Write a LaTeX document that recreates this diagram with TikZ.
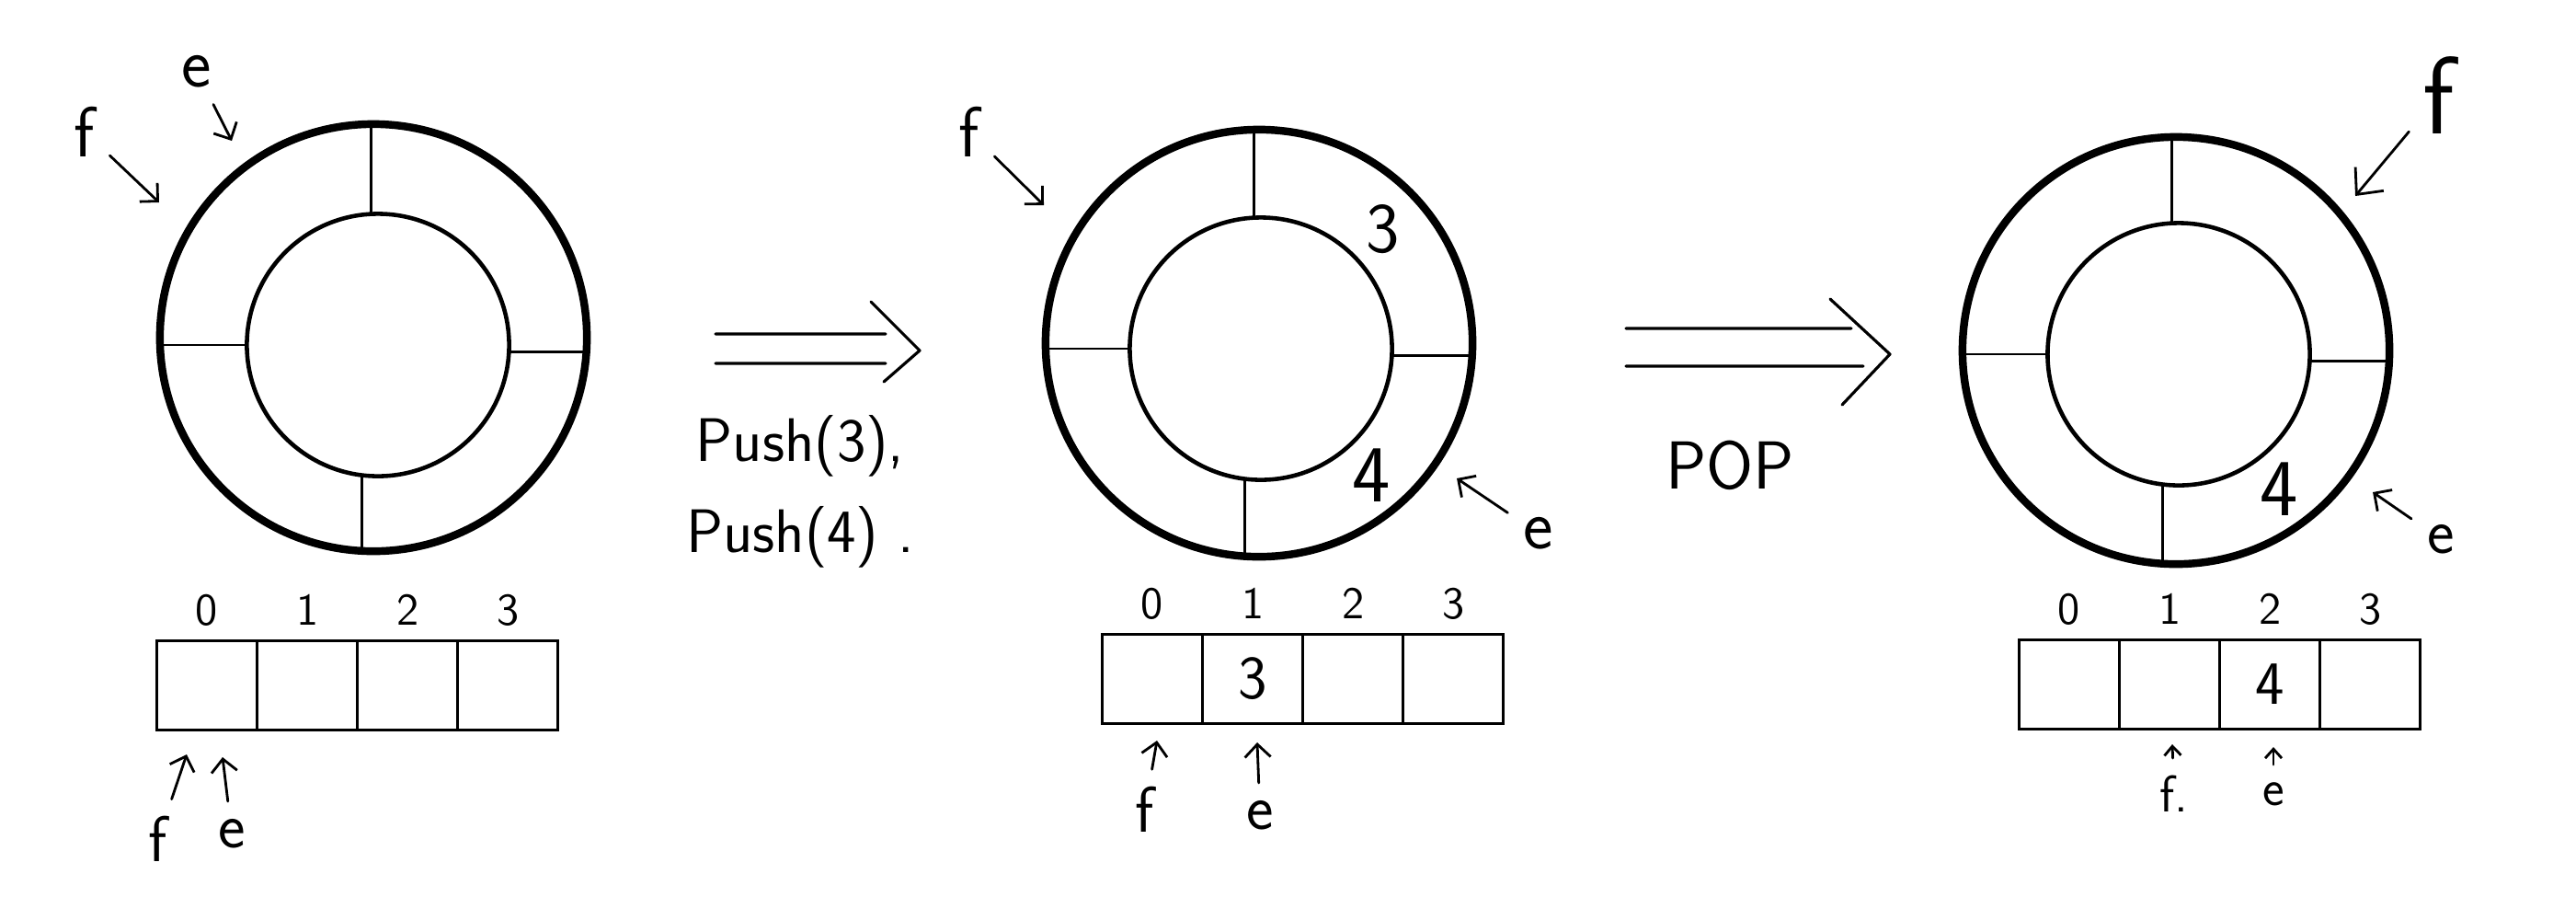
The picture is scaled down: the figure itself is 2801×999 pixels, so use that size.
\documentclass[tikz,border=0pt]{standalone}
\usetikzlibrary{arrows.meta}

\begin{document}
\begin{tikzpicture}
    [x=0.01cm, y=-0.01cm,
    node distance =1.09cm,
    ring/.style={draw, circle, inner sep=0pt, outer sep=0pt, minimum size=4.64cm, line width=2.4pt},
    hole/.style={draw, circle, inner sep=0pt, outer sep=0pt, minimum size=2.85cm, line width=1.3pt},
    divider/.style={line width=0.8pt},
    cell/.style={draw, inner sep=0pt, outer sep=0pt, minimum width=1.09cm, minimum height=0.97cm, line width=0.9pt, font=\sffamily\fontsize{19}{21}\selectfont},
    idx/.style={node distance=0.82cm, font=\sffamily\fontsize{14}{16}\selectfont},
    lbl/.style={inner sep=0.08cm, font=\sffamily\fontsize{22}{24}\selectfont},
    val/.style={font=\sffamily\fontsize{22}{24}\selectfont},
    ptr/.style={line width=0.8pt, line cap=round, shorten <=3pt, -{Straight Barb[length=0.14cm, width=0.28cm]}},
    opline/.style={line width=0.9pt, line cap=round, line join=round},
    oplbl/.style={font=\sffamily\fontsize{19}{21}\selectfont}]
        \useasboundingbox (0,0) rectangle (2801,999);
        % Queue 1
        \node[ring] (R1o) at (406,367) {};
        \node[hole] (R1i) at (411,375) {};
        \draw[divider] (R1i.93) -- (R1i.93 |- R1o.north);
        \draw[divider] (R1i.180) -- (R1i.180 -| R1o.west);
        \draw[divider] (R1i.357.6) -- (R1i.357.6 -| R1o.east);
        \draw[divider] (R1i.263.5) -- (R1i.263.5 |- R1o.south);

        \node[lbl] (f1) at (92,143) {f};
        \node[lbl] (e1) at (214,78) {e};
        \coordinate (f1at) at (173,220);
        \coordinate (e1at) at (252,153);
        \draw[ptr] (f1) -- (f1at);
        \draw[ptr] (e1) -- (e1at);

        \node[cell] (A0) at (225,745) {};
        \node[cell, right of = A0] (A1) {};
        \node[cell, right of = A1] (A2) {};
        \node[cell, right of = A2] (A3) {};
        \node[idx, above of = A0] (A0i) {0};
        \node[idx, above of = A1] (A1i) {1};
        \node[idx, above of = A2] (A2i) {2};
        \node[idx, above of = A3] (A3i) {3};

        \node[lbl, font=\sffamily\fontsize{20}{22}\selectfont] (fa) at (172,912) {f};
        \node[lbl, font=\sffamily\fontsize{20}{22}\selectfont] (ea) at (252,906) {e};
        \coordinate (faat) at (203,820);
        \coordinate (eaat) at (242,823);
        \draw[ptr] (fa) -- (faat);
        \draw[ptr] (ea) -- (eaat);

        % Push step
        \coordinate (op1a) at (778,379);
        \coordinate (op1b) at (1000,381);
        \draw[opline] ([yshift=0.16cm]op1a) -- ([xshift=-0.37cm, yshift=0.18cm]op1b);
        \draw[opline] ([yshift=-0.16cm]op1a) -- ([xshift=-0.37cm, yshift=-0.14cm]op1b);
        \draw[opline] ([xshift=-0.53cm, yshift=0.53cm]op1b) -- (op1b) -- ([xshift=-0.39cm, yshift=-0.34cm]op1b);
        \node[oplbl] (push3) at (870,485) {Push(3),};
        \node[oplbl, below of = push3, node distance=0.99cm] (push4) {Push(4) .};

        % Queue 2
        \node[ring] (R2o) at (1369,373) {};
        \node[hole] (R2i) at (1371,379) {};
        \draw[divider] (R2i.93) -- (R2i.93 |- R2o.north);
        \draw[divider] (R2i.180) -- (R2i.180 -| R2o.west);
        \draw[divider] (R2i.357.6) -- (R2i.357.6 -| R2o.east);
        \draw[divider] (R2i.263.5) -- (R2i.263.5 |- R2o.south);
        \node[val] (v23) at (1504,249) {3};
        \node[val, font=\sffamily\fontsize{25}{27}\selectfont] (v24) at (1491,517) {4};

        \node[lbl] (f2) at (1054,143) {f};
        \node[lbl] (e2) at (1673,580) {e};
        \coordinate (f2at) at (1135,223);
        \coordinate (e2at) at (1584,520);
        \draw[ptr] (f2) -- (f2at);
        \draw[ptr] (e2) -- (e2at);

        \node[cell] (B0) at (1253,738) {};
        \node[cell, right of = B0] (B1) {3};
        \node[cell, right of = B1] (B2) {};
        \node[cell, right of = B2] (B3) {};
        \node[idx, above of = B0] (B0i) {0};
        \node[idx, above of = B1] (B1i) {1};
        \node[idx, above of = B2] (B2i) {2};
        \node[idx, above of = B3] (B3i) {3};

        \node[lbl, font=\sffamily\fontsize{20}{22}\selectfont] (fb) at (1245,880) {f};
        \node[lbl, font=\sffamily\fontsize{20}{22}\selectfont] (eb) at (1370,886) {e};
        \coordinate (fbat) at (1258,805);
        \coordinate (ebat) at (1367,807);
        \draw[ptr] (fb) -- (fbat);
        \draw[ptr] (eb) -- (ebat);

        % Pop step
        \coordinate (op2a) at (1768,378);
        \coordinate (op2b) at (2055,385);
        \draw[opline] ([yshift=0.21cm]op2a) -- ([xshift=-0.42cm, yshift=0.28cm]op2b);
        \draw[opline] ([yshift=-0.20cm]op2a) -- ([xshift=-0.29cm, yshift=-0.13cm]op2b);
        \draw[opline] ([xshift=-0.65cm, yshift=0.60cm]op2b) -- (op2b) -- ([xshift=-0.52cm, yshift=-0.55cm]op2b);
        \node[oplbl, font=\sffamily\fontsize{21}{23}\selectfont] (pop) at (1881,506) {POP};

        % Queue 3
        \node[ring] (R3o) at (2366,381) {};
        \node[hole] (R3i) at (2369,385) {};
        \draw[divider] (R3i.93) -- (R3i.93 |- R3o.north);
        \draw[divider] (R3i.180) -- (R3i.180 -| R3o.west);
        \draw[divider] (R3i.357.6) -- (R3i.357.6 -| R3o.east);
        \draw[divider] (R3i.263.5) -- (R3i.263.5 |- R3o.south);
        \node[val, font=\sffamily\fontsize{25}{27}\selectfont] (v34) at (2478,532) {4};

        \node[lbl, font=\sffamily\fontsize{34}{36}\selectfont] (f3) at (2652,104) {f};
        \node[lbl, font=\sffamily\fontsize{20}{22}\selectfont] (e3) at (2654,586) {e};
        \coordinate (f3at) at (2561,213);
        \coordinate (e3at) at (2580,535);
        \draw[ptr, -{Straight Barb[length=0.22cm, width=0.4cm]}] (f3) -- (f3at);
        \draw[ptr] (e3) -- (e3at);

        \node[cell] (C0) at (2250,744) {};
        \node[cell, right of = C0] (C1) {};
        \node[cell, right of = C1] (C2) {4};
        \node[cell, right of = C2] (C3) {};
        \node[idx, above of = C0] (C0i) {0};
        \node[idx, above of = C1] (C1i) {1};
        \node[idx, above of = C2] (C2i) {2};
        \node[idx, above of = C3] (C3i) {3};

        \node[lbl, font=\sffamily\fontsize{16}{18}\selectfont] (fc) at (2364,863) {f.};
        \node[lbl, font=\sffamily\fontsize{16}{18}\selectfont] (ec) at (2472,863) {e};
        \coordinate (fcat) at (2362,809);
        \coordinate (ecat) at (2472,812);
        \draw[ptr, -{Straight Barb[length=0.1cm, width=0.18cm]}] (fc) -- (fcat);
        \draw[ptr, -{Straight Barb[length=0.1cm, width=0.18cm]}] (ec) -- (ecat);
    \end{tikzpicture}
\end{document}
